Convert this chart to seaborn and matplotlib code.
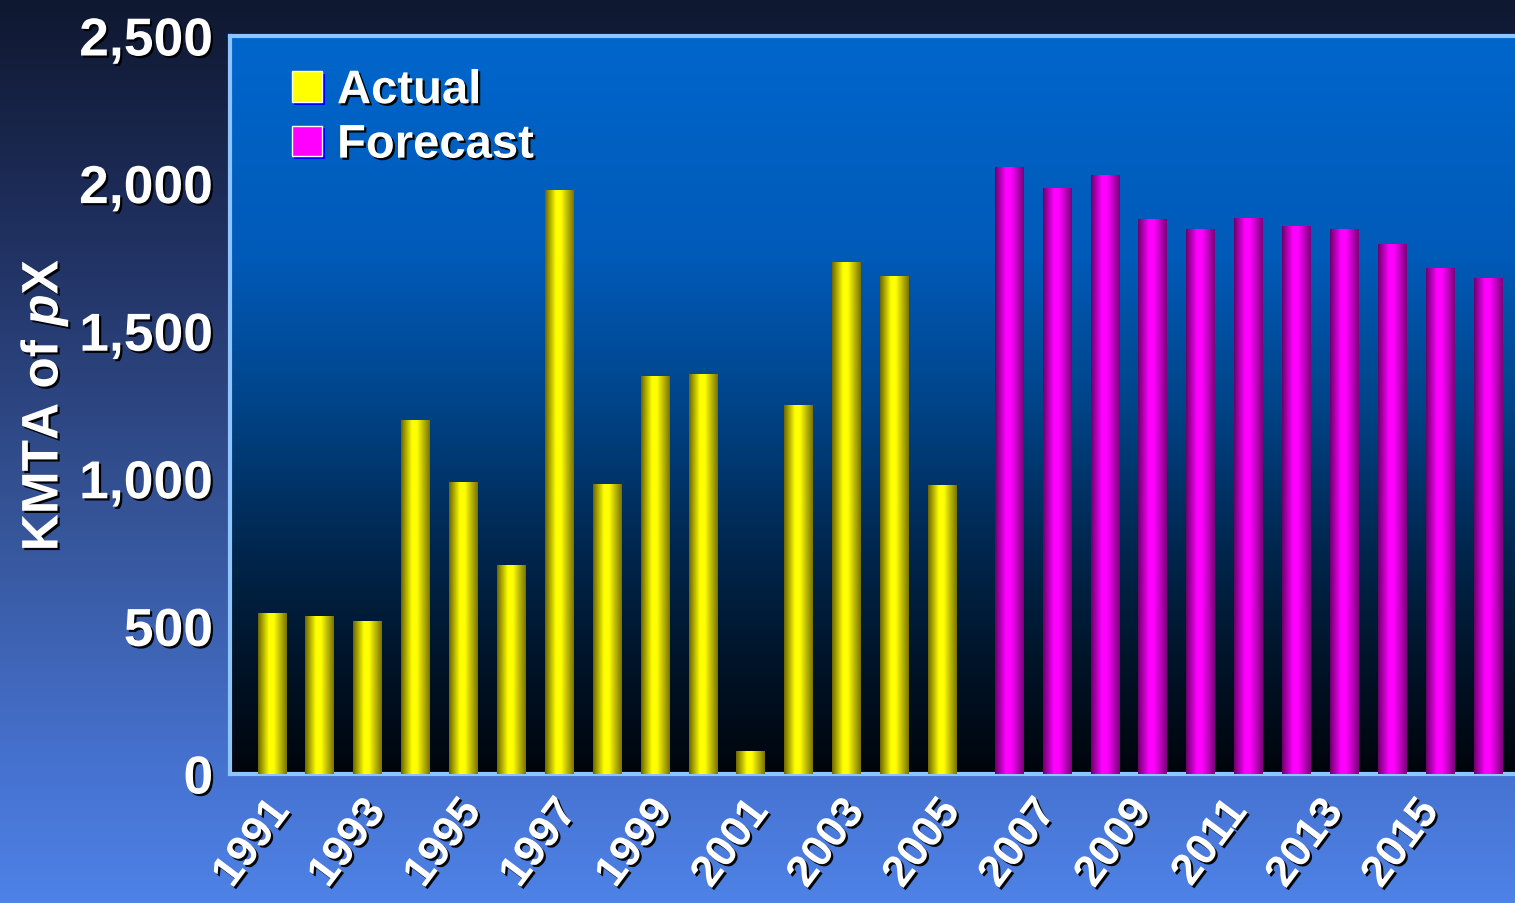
import numpy as np
import pandas as pd
import matplotlib
matplotlib.use("Agg")
from matplotlib import pyplot as plt
from matplotlib import patheffects as pe
from matplotlib.colors import LinearSegmentedColormap
from matplotlib.patches import Patch
import seaborn as sns

# data
years = list(range(1991, 2017))
actual = [545, 535, 518, 1196, 989, 705, 1978, 982, 1345, 1355, 75, 1247, 1734, 1684, 976]
forecast = [2053, 1985, 2029, 1877, 1843, 1883, 1856, 1843, 1795, 1714, 1680]
kinds = ["Actual"] * len(actual) + ["Forecast"] * len(forecast)
tick_years = [str(y) for y in years[::2]][:13]

df = pd.DataFrame({
    "year": [str(y) for y in years],
    "kmta": actual + forecast,
    "kind": kinds,
})

sns.set_style("white")
plt.rcParams["font.family"] = ["Liberation Sans", "DejaVu Sans"]
plt.rcParams["font.weight"] = "bold"
plt.rcParams["axes.labelweight"] = "bold"
plt.rcParams["mathtext.fontset"] = "custom"
plt.rcParams["mathtext.rm"] = "Liberation Sans:bold"
plt.rcParams["mathtext.it"] = "Liberation Sans:bold:italic"

SPINE = "#8ec4ff"
shadow = [pe.withSimplePatchShadow(offset=(1.6, -1.6), shadow_rgbFace="black", alpha=0.95)]

fig = plt.figure(figsize=(15.15, 9.04), dpi=100)

# figure background gradient
bg = fig.add_axes([0, 0, 1, 1], zorder=-10)
bg_cmap = LinearSegmentedColormap.from_list(
    "bg", [(0, "#0f1830"), (0.25, "#1f2f5e"), (0.6, "#37579c"), (0.85, "#4672d0"), (1, "#4e82e6")])
bg.imshow(np.linspace(0, 1, 256).reshape(-1, 1), cmap=bg_cmap, aspect="auto", extent=[0, 1, 0, 1])
bg.axis("off")

ax = fig.add_axes([230 / 1515, 1 - 775 / 904, 1 - 230 / 1515, (775 - 37) / 904])
ax.set_facecolor("none")

# plot area gradient
ax_cmap = LinearSegmentedColormap.from_list(
    "ax", [(0, "#0066cc"), (0.3, "#005ab8"), (0.5, "#004488"), (0.7, "#00264d"), (0.85, "#001428"), (1, "#00050c")])
ax.imshow(np.linspace(0, 1, 256).reshape(-1, 1), cmap=ax_cmap, aspect="auto",
          extent=[0, 1, 0, 1], transform=ax.transAxes, zorder=0)

# clustered bars, the two series overlap a little like the original
palette = {"Actual": "#ffff00", "Forecast": "#ff00ff"}
sns.barplot(data=df, x="year", y="kmta", hue="kind", palette=palette, dodge=True,
            width=0.794, gap=-0.52, ax=ax, legend=False, zorder=2)

# cylinder shading on each bar
yel = LinearSegmentedColormap.from_list(
    "yel", [(0, "#6e6800"), (0.38, "#ffff00"), (0.55, "#ffff00"), (1, "#7a7400")])
mag = LinearSegmentedColormap.from_list(
    "mag", [(0, "#6e006e"), (0.38, "#ff00ff"), (0.55, "#ff00ff"), (1, "#7a007a")])
row = np.linspace(0, 1, 100).reshape(1, -1)
for bar in list(ax.patches):
    h = bar.get_height()
    if h == 0 or np.isnan(h):
        continue
    x0, w = bar.get_x(), bar.get_width()
    r, g, b, _ = bar.get_facecolor()
    cm = yel if g > 0.5 else mag
    ax.imshow(row, cmap=cm, aspect="auto", extent=[x0, x0 + w, 0, h], zorder=3)
    bar.set_facecolor("none")
    bar.set_edgecolor("none")

ax.set_xlim(-1.076, 25.76)
ax.set_ylim(0, 2500)
ax.set_yticks(range(0, 2501, 500))
ax.set_yticklabels([f"{v:,}" for v in range(0, 2501, 500)])
ax.set_xticks(range(0, 26, 2))
ax.set_xticklabels(tick_years, rotation=53, ha="right", va="center", rotation_mode="anchor")

ax.tick_params(axis="y", direction="in", length=18, width=2.2, color=SPINE,
               pad=12, labelsize=38.5, labelcolor="white")
ax.tick_params(axis="x", length=0, pad=22, labelsize=31.5, labelcolor="white")
for lbl in ax.get_xticklabels() + ax.get_yticklabels():
    lbl.set_path_effects(shadow)

for side in ["left", "top", "bottom"]:
    ax.spines[side].set_color(SPINE)
    ax.spines[side].set_linewidth(3)
ax.spines["right"].set_visible(False)

ax.set_xlabel("")
ax.set_ylabel(r"KMTA of $\mathit{p}$X", fontsize=37, color="white", labelpad=6)
ax.yaxis.label.set_path_effects(shadow)

handles = [Patch(facecolor=palette["Actual"]), Patch(facecolor=palette["Forecast"])]
leg = ax.legend(handles, ["Actual", "Forecast"], loc="upper left", bbox_to_anchor=(0.048, 0.955),
                frameon=False, fontsize=34, handlelength=0.64, handleheight=0.62,
                handletextpad=0.32, labelspacing=0.22, borderpad=0, borderaxespad=0)
for t in leg.get_texts():
    t.set_color("white")
    t.set_path_effects(shadow)
for hnd in leg.legend_handles:
    hnd.set_path_effects([pe.SimplePatchShadow(offset=(2, -2), shadow_rgbFace="#0000ff", alpha=1), pe.Normal()])

fig.savefig("out.png", dpi=100)
